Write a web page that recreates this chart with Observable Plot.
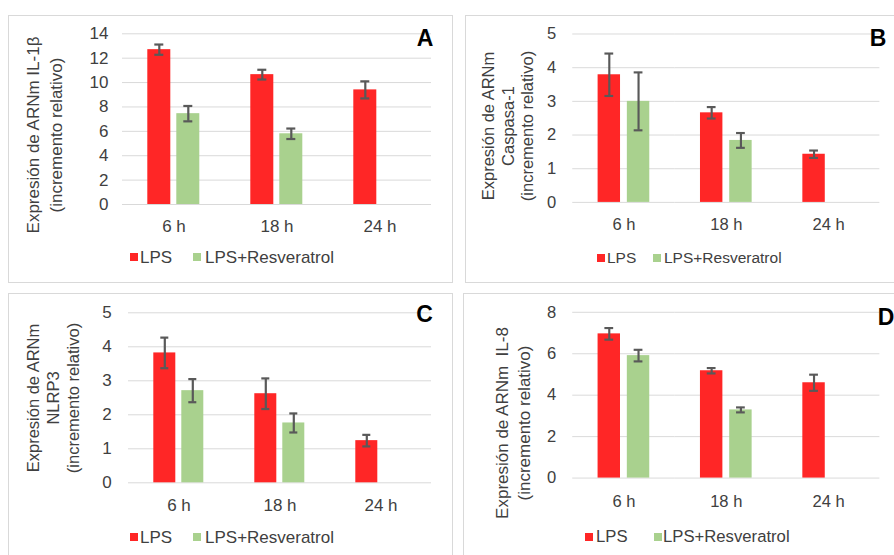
<!DOCTYPE html>
<html><head><meta charset="utf-8">
<script src="https://cdn.jsdelivr.net/npm/d3@7"></script>
<script src="https://cdn.jsdelivr.net/npm/@observablehq/plot@0.6"></script>
<style>
html,body{margin:0;padding:0;overflow:hidden;background:#fff;}
body{position:relative;width:894px;height:555px;font-family:"Liberation Sans",Arial,sans-serif;}
.box{position:absolute;border:1px solid #d9d9d9;box-sizing:border-box;}
.plot{position:absolute;}
.plot svg{overflow:visible;}
.ytitle{position:absolute;transform:translate(-50%,-50%) rotate(-90deg);text-align:center;white-space:pre;color:#404040;}
.letter{position:absolute;font-weight:bold;color:#000;font-size:23px;line-height:1;transform:translate(-50%,-50%);}
.sq{position:absolute;width:8px;height:8px;transform:translateY(-50%);}
.lt{position:absolute;color:#404040;white-space:nowrap;line-height:1;transform:translateY(-50%);}
</style></head>
<body>
<script>
// ---- data ----
const times = ["6 h", "18 h", "24 h"];
const series = ["LPS", "LPS+Resveratrol"];
const seriesColors = ["#FF2626", "#A9D18E"];

// Panel A: IL-1β
const aLps = [12.7, 10.65, 9.4];
const aLpsErr = [0.42, 0.4, 0.7];
const aRes = [7.45, 5.8, null];
const aResErr = [0.63, 0.43, null];
const aTicks = [0, 2, 4, 6, 8, 10, 12, 14];
const aTitle = ["Expresión de ARNm IL-1β", "(incremento relativo)"];

// Panel B: Caspasa-1
const bLps = [3.79, 2.66, 1.43];
const bLpsErr = [0.63, 0.17, 0.11];
const bRes = [3.0, 1.84, null];
const bResErr = [0.86, 0.22, null];
const bTicks = [0, 1, 2, 3, 4, 5];
const bTitle = ["Expresión de ARNm", "Caspasa-1", "(incremento relativo)"];

// Panel C: NLRP3
const cLps = [3.82, 2.62, 1.24];
const cLpsErr = [0.45, 0.45, 0.17];
const cRes = [2.71, 1.76, null];
const cResErr = [0.34, 0.28, null];
const cTicks = [0, 1, 2, 3, 4, 5];
const cTitle = ["Expresión de ARNm", "NLRP3", "(incremento relativo)"];

// Panel D: IL-8
const dLps = [6.96, 5.18, 4.6];
const dLpsErr = [0.28, 0.13, 0.39];
const dRes = [5.91, 3.29, null];
const dResErr = [0.28, 0.12, null];
const dTicks = [0, 2, 4, 6, 8];
const dTitle = ["Expresión de ARNm  IL-8", "(incremento relativo)"];

const panelLetters = ["A", "B", "C", "D"];

// ---- layout ----
const panels = [
  {letter: panelLetters[0], lps: aLps, lpsErr: aLpsErr, res: aRes, resErr: aResErr, ticks: aTicks, title: aTitle,
   box: {left: 8, top: 15, w: 445, h: 268}, m: {l: 113.7, r: 21, t: 18.3, b: 79},
   yPad: 14, fxPad: 15.5, pin: 0.223, pout: 0.84, fs: 17,
   yt: {cx: 45, cy: 135, lh: 23, fs: 17}, lc: {cx: 425, cy: 38},
   lg: {cy: 257, fs: 17, items: [[130, 140], [193, 205]]}},
  {letter: panelLetters[1], lps: bLps, lpsErr: bLpsErr, res: bRes, resErr: bResErr, ticks: bTicks, title: bTitle,
   box: {left: 465, top: 15, w: 440, h: 268}, m: {l: 110, r: 15, t: 19, b: 76.3},
   yPad: 17, fxPad: 16.5, pin: 0.223, pout: 0.861, fs: 17,
   yt: {cx: 508, cy: 126, lh: 19.5, fs: 16.5}, lc: {cx: 878, cy: 37.5},
   lg: {cy: 258, fs: 15.5, items: [[597, 607], [653, 664]]}},
  {letter: panelLetters[2], lps: cLps, lpsErr: cLpsErr, res: cRes, resErr: cResErr, ticks: cTicks, title: cTitle,
   box: {left: 8, top: 293, w: 445, h: 275}, m: {l: 118.7, r: 21.3, t: 19.3, b: 85.7},
   yPad: 16.7, fxPad: 16.5, pin: 0.224, pout: 0.865, fs: 17,
   yt: {cx: 53, cy: 398, lh: 20, fs: 16.5}, lc: {cx: 424.5, cy: 314},
   lg: {cy: 536.7, fs: 17, items: [[130, 140], [193, 205]]}},
  {letter: panelLetters[3], lps: dLps, lpsErr: dLpsErr, res: dRes, resErr: dResErr, ticks: dTicks, title: dTitle,
   box: {left: 463, top: 293, w: 442, h: 275}, m: {l: 112, r: 15, t: 19.3, b: 85.7},
   yPad: 17, fxPad: 17.5, pin: 0.223, pout: 0.861, fs: 17,
   yt: {cx: 514, cy: 423, lh: 22, fs: 17}, lc: {cx: 886, cy: 316.5},
   lg: {cy: 536.7, fs: 16.7, items: [[585, 596], [654, 663]]}}
];

function el(tag, cls, css, text) {
  const e = document.createElement(tag);
  if (cls) e.className = cls;
  Object.assign(e.style, css || {});
  if (text != null) e.textContent = text;
  document.body.appendChild(e);
  return e;
}
const px = v => v + "px";

for (const p of panels) {
  const rows = [];
  times.forEach((t, i) => {
    const vals = [p.lps[i], p.res[i]];
    const errs = [p.lpsErr[i], p.resErr[i]];
    series.forEach((s, j) => {
      if (vals[j] != null) rows.push({time: t, series: s, value: vals[j], err: errs[j]});
    });
  });

  el("div", "box", {left: px(p.box.left), top: px(p.box.top), width: px(p.box.w), height: px(p.box.h)});

  const chart = Plot.plot({
    width: p.box.w, height: p.box.h,
    marginLeft: p.m.l, marginRight: p.m.r, marginTop: p.m.t, marginBottom: p.m.b,
    style: {fontFamily: '"Liberation Sans", Arial, sans-serif', fontSize: p.fs + "px", color: "#404040", background: "none", overflow: "visible"},
    fx: {domain: times, padding: 0, label: null, tickSize: 0, tickPadding: p.fxPad, axis: "bottom"},
    x: {domain: series, axis: null, paddingInner: p.pin, paddingOuter: p.pout},
    y: {domain: [0, d3.max(p.ticks)], label: null},
    color: {domain: series, range: seriesColors},
    marks: [
      Plot.gridY(p.ticks, {stroke: "#d9d9d9", strokeOpacity: 1, strokeWidth: 1}),
      Plot.barY(rows, {fx: "time", x: "series", y: "value", fill: "series"}),
      Plot.ruleX(rows, {fx: "time", x: "series", y1: d => d.value - d.err, y2: d => d.value + d.err, stroke: "#595959", strokeWidth: 2.2}),
      Plot.tickY(rows, {fx: "time", x: "series", y: d => d.value - d.err, stroke: "#595959", strokeWidth: 2.2, insetLeft: 7, insetRight: 7}),
      Plot.tickY(rows, {fx: "time", x: "series", y: d => d.value + d.err, stroke: "#595959", strokeWidth: 2.2, insetLeft: 7, insetRight: 7}),
      Plot.axisY({ticks: p.ticks, tickSize: 0, tickPadding: p.yPad, label: null, tickFormat: d => String(d)})
    ]
  });
  const wrap = el("div", "plot", {left: px(p.box.left), top: px(p.box.top)});
  wrap.appendChild(chart);

  const yt = el("div", "ytitle", {left: px(p.yt.cx), top: px(p.yt.cy), fontSize: px(p.yt.fs), lineHeight: px(p.yt.lh)});
  yt.textContent = p.title.join("\n");

  el("div", "letter", {left: px(p.lc.cx), top: px(p.lc.cy)}, p.letter);

  series.forEach((s, j) => {
    const [sx, tx] = p.lg.items[j];
    el("div", "sq", {left: px(sx), top: px(p.lg.cy), background: seriesColors[j]});
    el("div", "lt", {left: px(tx), top: px(p.lg.cy), fontSize: px(p.lg.fs)}, s);
  });
}
</script>
</body></html>
